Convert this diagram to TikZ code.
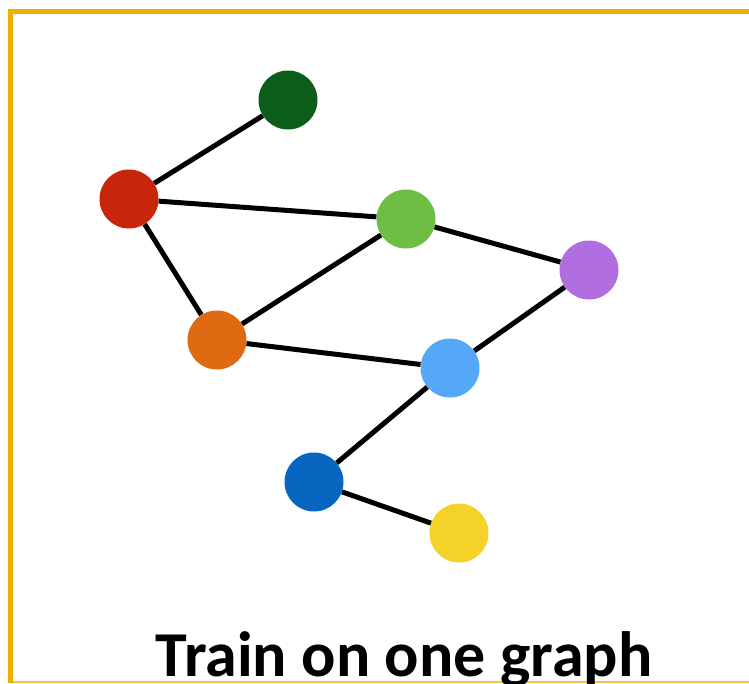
\documentclass[tikz,border=0pt]{standalone}
\usepackage{fontspec}
\setmainfont{Carlito}
\usetikzlibrary{positioning}
\definecolor{frameorange}{HTML}{F2AE00}
\definecolor{framelight}{HTML}{F8C244}
\definecolor{pinegreen}{HTML}{0C5C1A}
\definecolor{brick}{HTML}{C8260A}
\definecolor{leaf}{HTML}{6EBE44}
\definecolor{lilac}{HTML}{B06EE0}
\definecolor{pumpkin}{HTML}{E06A12}
\definecolor{sky}{HTML}{55A8F8}
\definecolor{cobalt}{HTML}{0866C0}
\definecolor{sun}{HTML}{F5D22A}

\tikzset{
  vert/.style={circle, minimum size=59pt, inner sep=0pt},
  link/.style={line width=5pt, black}
}

\begin{document}
\begin{tikzpicture}[x=1pt, y=-1pt]

% Canvas
\useasboundingbox (0,0) rectangle (749,683);
\fill[white] (0,0) rectangle (749,683);

% Frame
\draw[framelight, line width=1.5pt] (10,682.2) -- (749,682.2);
\draw[frameorange, line width=5pt] (10.5,683) -- (10.5,11.5) -- (749,11.5);

%% Vertices
\node[vert, fill=pinegreen] (top)    at (288,100) {};
\node[vert, fill=brick]     (left)   at (129,199) {};
\node[vert, fill=leaf]      (upper)  at (406,219) {};
\node[vert, fill=lilac]     (right)  at (589,270) {};
\node[vert, fill=pumpkin]   (mid)    at (217,340) {};
\node[vert, fill=sky]       (center) at (450,368) {};
\node[vert, fill=cobalt]    (lower)  at (314,482) {};
\node[vert, fill=sun]       (tail)   at (459,533) {};

%% Links
\draw[link] (left) -- (top);
\draw[link] (left) -- (upper);
\draw[link] (left) -- (mid);
\draw[link] (mid) -- (upper);
\draw[link] (upper) -- (right);
\draw[link] (right) -- (center);
\draw[link] (mid) -- (center);
\draw[link] (center) -- (lower);
\draw[link] (lower) -- (tail);

% Caption
\node[anchor=base, font=\fontsize{64}{70}\selectfont\bfseries, inner sep=0pt] (caption) at (404,676) {Train on one graph};

\end{tikzpicture}
\end{document}
